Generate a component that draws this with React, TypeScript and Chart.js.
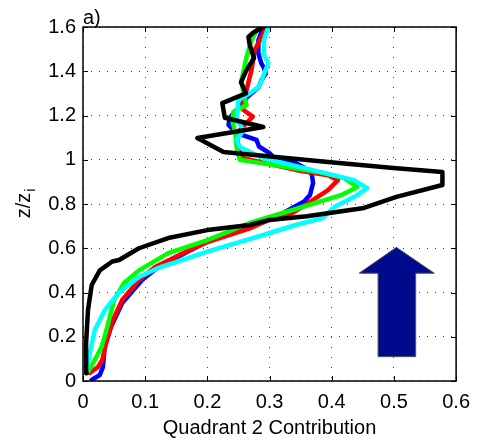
import React, { useEffect, useRef } from 'react';
import { Chart, registerables } from 'chart.js';

Chart.register(...registerables);

// ---- axis ticks ----
const xTicks = [0, 0.1, 0.2, 0.3, 0.4, 0.5, 0.6];
const yTicks = [0, 0.2, 0.4, 0.6, 0.8, 1, 1.2, 1.4, 1.6];

// ---- series: height z/zi and quadrant 2 contribution ----
const zBlue = [0.005, 0.027, 0.063, 0.155, 0.244, 0.352, 0.456, 0.515, 0.58, 0.63, 0.69, 0.74, 0.78, 0.81, 0.84, 0.895, 0.935, 0.965, 0.985, 1.0, 1.03, 1.06, 1.09, 1.12, 1.157, 1.19, 1.21, 1.25, 1.28, 1.33, 1.36, 1.39, 1.415, 1.434, 1.48, 1.54, 1.6];
const qBlue = [0.014, 0.027, 0.032, 0.035, 0.045, 0.063, 0.095, 0.121, 0.165, 0.2, 0.265, 0.31, 0.335, 0.355, 0.365, 0.37, 0.368, 0.355, 0.342, 0.31, 0.3, 0.283, 0.279, 0.247, 0.234, 0.236, 0.242, 0.255, 0.263, 0.283, 0.287, 0.294, 0.291, 0.287, 0.282, 0.282, 0.29];

const zRed = [0.036, 0.063, 0.095, 0.172, 0.275, 0.366, 0.456, 0.515, 0.57, 0.628, 0.69, 0.743, 0.758, 0.804, 0.863, 0.908, 0.93, 0.954, 0.98, 1.007, 1.044, 1.12, 1.195, 1.225, 1.27, 1.315, 1.405, 1.496, 1.57, 1.6];
const qRed = [0.011, 0.024, 0.031, 0.037, 0.048, 0.063, 0.09, 0.116, 0.155, 0.2, 0.268, 0.31, 0.336, 0.362, 0.394, 0.41, 0.394, 0.342, 0.3, 0.258, 0.25, 0.247, 0.273, 0.258, 0.258, 0.263, 0.271, 0.276, 0.29, 0.294];

const zGreen = [0.04, 0.095, 0.155, 0.244, 0.366, 0.443, 0.5, 0.578, 0.637, 0.714, 0.773, 0.84, 0.877, 0.917, 0.945, 0.97, 1.0, 1.058, 1.12, 1.18, 1.216, 1.247, 1.3, 1.36, 1.464, 1.54, 1.6];
const qGreen = [0.008, 0.019, 0.03, 0.039, 0.05, 0.066, 0.09, 0.137, 0.2, 0.268, 0.337, 0.415, 0.441, 0.42, 0.378, 0.32, 0.252, 0.247, 0.245, 0.24, 0.242, 0.263, 0.258, 0.255, 0.263, 0.271, 0.282];

const zCyan = [0.05, 0.126, 0.23, 0.32, 0.4, 0.47, 0.51, 0.585, 0.66, 0.705, 0.735, 0.788, 0.84, 0.872, 0.908, 0.954, 1.007, 1.058, 1.09, 1.134, 1.18, 1.27, 1.3, 1.33, 1.437, 1.48, 1.54, 1.6];
const qCyan = [0.006, 0.011, 0.019, 0.035, 0.058, 0.09, 0.12, 0.2, 0.29, 0.342, 0.384, 0.405, 0.441, 0.457, 0.436, 0.368, 0.29, 0.252, 0.247, 0.258, 0.247, 0.25, 0.268, 0.283, 0.298, 0.29, 0.291, 0.298];

const zBlack = [0.035, 0.17, 0.32, 0.434, 0.5, 0.54, 0.547, 0.6, 0.646, 0.682, 0.705, 0.728, 0.745, 0.782, 0.832, 0.886, 0.945, 0.963, 0.99, 1.035, 1.098, 1.148, 1.19, 1.256, 1.3, 1.35, 1.4, 1.46, 1.52, 1.555, 1.575, 1.6];
const qBlack = [0.006, 0.005, 0.008, 0.014, 0.027, 0.047, 0.058, 0.09, 0.137, 0.2, 0.268, 0.3, 0.36, 0.452, 0.504, 0.578, 0.578, 0.499, 0.394, 0.226, 0.184, 0.29, 0.228, 0.224, 0.262, 0.254, 0.262, 0.275, 0.268, 0.266, 0.274, 0.29];

// ---- arrow outline (contribution, z/zi) ----
const arrowQ = [0.4745, 0.535, 0.535, 0.565, 0.504, 0.444, 0.4745];
const arrowZ = [0.11, 0.11, 0.487, 0.487, 0.604, 0.487, 0.487];

const FONT = "'Liberation Sans', Arial, Helvetica, sans-serif";

const fmt = (v: number | string) => String(Math.round(Number(v) * 10) / 10);

const pts = (q: number[], z: number[]) => q.map((v, i) => ({ x: v, y: z[i] }));

const series = (label: string, color: string, q: number[], z: number[]) => ({
  label,
  data: pts(q, z),
  showLine: true,
  borderColor: color,
  backgroundColor: color,
  borderWidth: 4.5,
  pointRadius: 0,
  pointHoverRadius: 0,
  tension: 0,
  borderJoinStyle: 'round' as const,
  borderCapStyle: 'round' as const,
  fill: false,
});

const decorPlugin = {
  id: 'decor',
  afterDatasetsDraw(chart: any) {
    const { ctx, chartArea: a, scales } = chart;
    const x = scales.x, y = scales.y;
    ctx.save();
    // arrow
    ctx.beginPath();
    arrowQ.forEach((q, i) => {
      const px = x.getPixelForValue(q);
      const py = y.getPixelForValue(arrowZ[i]);
      if (i === 0) ctx.moveTo(px, py); else ctx.lineTo(px, py);
    });
    ctx.closePath();
    ctx.fillStyle = '#000a8c';
    ctx.fill();
    ctx.strokeStyle = '#555';
    ctx.lineWidth = 1;
    ctx.stroke();

    // frame
    ctx.strokeStyle = '#000';
    ctx.lineWidth = 1.5;
    ctx.strokeRect(a.left, a.top, a.right - a.left, a.bottom - a.top);

    // inward ticks
    const L = 5;
    ctx.lineWidth = 1;
    ctx.beginPath();
    xTicks.forEach((v) => {
      const px = Math.round(x.getPixelForValue(v)) + 0.5;
      ctx.moveTo(px, a.bottom); ctx.lineTo(px, a.bottom - L);
      ctx.moveTo(px, a.top); ctx.lineTo(px, a.top + L);
    });
    yTicks.forEach((v) => {
      const py = Math.round(y.getPixelForValue(v)) + 0.5;
      ctx.moveTo(a.left, py); ctx.lineTo(a.left + L, py);
      ctx.moveTo(a.right, py); ctx.lineTo(a.right - L, py);
    });
    ctx.stroke();

    // panel label
    ctx.fillStyle = '#000';
    ctx.font = `20px ${FONT}`;
    ctx.textAlign = 'left';
    ctx.textBaseline = 'alphabetic';
    ctx.fillText('a)', a.left, a.top - 3);

    // y axis title with subscript
    ctx.translate(30, (a.top + a.bottom) / 2);
    ctx.rotate(-Math.PI / 2);
    ctx.font = `20px ${FONT}`;
    const w1 = ctx.measureText('z/z').width;
    ctx.font = `14px ${FONT}`;
    const w2 = ctx.measureText('i').width;
    const start = -(w1 + w2) / 2;
    ctx.font = `20px ${FONT}`;
    ctx.fillText('z/z', start, 0);
    ctx.font = `14px ${FONT}`;
    ctx.fillText('i', start + w1 + 1, 5);
    ctx.restore();
  },
};

export default function App() {
  const ref = useRef<HTMLCanvasElement | null>(null);

  useEffect(() => {
    if (!ref.current) return;
    const chart = new Chart(ref.current, {
      type: 'scatter',
      data: {
        datasets: [
          series('black', '#000000', qBlack, zBlack),
          series('cyan', '#00ffff', qCyan, zCyan),
          series('green', '#00ff00', qGreen, zGreen),
          series('red', '#ff0000', qRed, zRed),
          series('blue', '#0000ff', qBlue, zBlue),
        ],
      },
      options: {
        responsive: false,
        animation: false,
        events: [],
        layout: { padding: { left: 0, right: 15, top: 27, bottom: 0 } },
        plugins: { legend: { display: false }, tooltip: { enabled: false }, title: { display: false } },
        scales: {
          x: {
            type: 'linear',
            min: 0,
            max: 0.6,
            afterBuildTicks: (s: any) => { s.ticks = xTicks.map((v) => ({ value: v })); },
            afterFit: (s: any) => { s.height = 61; },
            grid: { color: '#444', lineWidth: 1, drawTicks: false },
            border: { display: false, dash: [1, 9] },
            ticks: { color: '#000', font: { family: FONT, size: 20 }, padding: 9, maxRotation: 0, autoSkip: false, callback: fmt },
            title: {
              display: true,
              text: 'Quadrant 2 Contribution',
              color: '#000',
              font: { family: FONT, size: 20 },
              padding: { top: 0, bottom: 2 },
            },
          },
          y: {
            type: 'linear',
            min: 0,
            max: 1.6,
            afterBuildTicks: (s: any) => { s.ticks = yTicks.map((v) => ({ value: v })); },
            afterFit: (s: any) => { s.width = 83; },
            grid: { color: '#444', lineWidth: 1, drawTicks: false },
            border: { display: false, dash: [1, 7] },
            ticks: { color: '#000', font: { family: FONT, size: 20 }, padding: 7, autoSkip: false, callback: fmt },
          },
        },
      },
      plugins: [decorPlugin],
    });
    return () => chart.destroy();
  }, []);

  return (
    <div style={{ position: 'fixed', left: 0, top: 0, width: 479, height: 442, background: '#fff' }}>
      <canvas ref={ref} width={479} height={442} style={{ width: 479, height: 442 }} />
    </div>
  );
}
